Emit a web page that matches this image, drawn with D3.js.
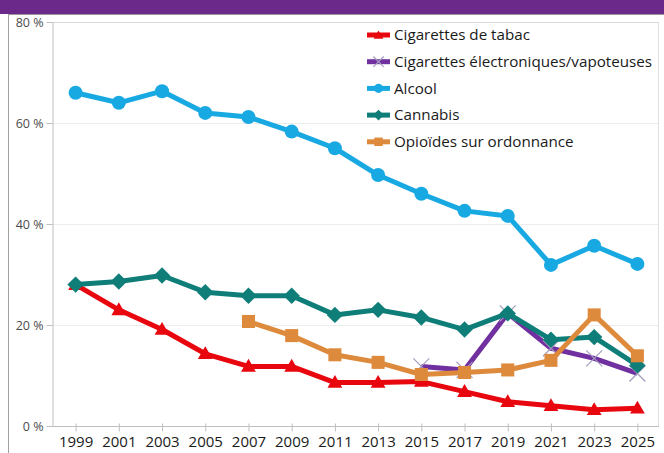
<!DOCTYPE html>
<html><head><meta charset="utf-8">
<script src="https://cdn.jsdelivr.net/npm/d3@7"></script>
<style>html,body{margin:0;padding:0;background:#fff;}svg{display:block;}</style>
</head><body>
<svg id="c" width="664" height="453"></svg>
<script>
const years = ["1999","2001","2003","2005","2007","2009","2011","2013","2015","2017","2019","2021","2023","2025"];
const yTicks = [0,20,40,60,80];
const seriesNames = ["Cigarettes de tabac","Cigarettes électroniques/vapoteuses","Alcool","Cannabis","Opioïdes sur ordonnance"];
const tabac = [28.0,23.0,19.1,14.3,11.8,11.8,8.6,8.6,8.8,6.8,4.8,4.0,3.2,3.5];
const ecig = [null,null,null,null,null,null,null,null,11.8,11.1,22.3,15.4,13.4,10.4];
const alcool = [66.0,64.0,66.3,62.0,61.2,58.3,55.0,49.7,46.0,42.6,41.6,31.9,35.7,32.1];
const cannabis = [28.0,28.6,29.8,26.5,25.8,25.8,22.0,23.0,21.5,19.1,22.3,17.1,17.6,12.0];
const opioides = [null,null,null,null,20.7,17.9,14.1,12.6,10.2,10.6,11.1,13.0,22.0,13.9];

const colors = ["#E8070E","#7030A0","#19A9E2","#0F7E79","#DE8A3D"];
const shapes = ["triangle","x","circle","diamond","square"];
const allVals = [tabac, ecig, alcool, cannabis, opioides];

const svg = d3.select("#c");
svg.append("rect").attr("x",0).attr("y",0).attr("width",664).attr("height",14).attr("fill","#6B2A8A");
svg.append("line").attr("x1",8).attr("x2",664).attr("y1",14.5).attr("y2",14.5).attr("stroke","#9a9a9a");
svg.append("line").attr("x1",8.5).attr("x2",8.5).attr("y1",14).attr("y2",453).attr("stroke","#a0a0a0");

const x = d3.scalePoint().domain(years).range([54,659]).padding(0.5);
const y = d3.scaleLinear().domain([0,80]).range([426,22]);

svg.append("g").selectAll("line").data(yTicks.filter(d=>d>0)).join("line")
  .attr("x1",52).attr("x2",659).attr("y1",d=>Math.round(y(d))+0.5).attr("y2",d=>Math.round(y(d))+0.5)
  .attr("stroke",d=>d===80?"#d9d9d9":"#ececec");
svg.append("line").attr("x1",658.5).attr("x2",658.5).attr("y1",22).attr("y2",426).attr("stroke","#e0e0e0");

const ya = svg.append("g").attr("transform","translate(52.5,0)")
  .call(d3.axisLeft(y).tickValues(yTicks).tickFormat(d=>d+" %").tickSizeInner(6).tickSizeOuter(0).tickPadding(3));
ya.select(".domain").attr("stroke","#bfbfbf");
ya.selectAll(".tick line").attr("stroke","#bfbfbf");
ya.selectAll(".tick text").attr("fill","#4d4d4d").style("font-family","'Open Sans',sans-serif").style("font-size","12.5px");

const xa = svg.append("g").attr("transform","translate(0,426.5)")
  .call(d3.axisBottom(x).tickSizeInner(5).tickSizeOuter(0).tickPadding(5));
xa.select(".domain").attr("stroke","#bfbfbf").attr("d","M52,0H659");
xa.selectAll(".tick line").attr("stroke","#bfbfbf").attr("y1",-3);
xa.selectAll(".tick text").attr("fill","#1a1a1a").style("font-family","'Open Sans',sans-serif").style("font-size","15px");

function drawMarker(g, shape, color, s) {
  if (shape === "triangle") {
    g.append("path").attr("d", d3.symbol(d3.symbolTriangle, 95*s*s)()).attr("fill",color).attr("transform","translate(0,1)");
  } else if (shape === "circle") {
    g.append("circle").attr("r",7*s).attr("fill",color);
  } else if (shape === "diamond") {
    g.append("path").attr("d", d3.symbol(d3.symbolSquare, 135*s*s)()).attr("fill",color).attr("transform","rotate(45)");
  } else if (shape === "square") {
    g.append("path").attr("d", d3.symbol(d3.symbolSquare, 170*s*s)()).attr("fill",color);
  } else if (shape === "x") {
    const r = 8*s;
    g.append("path").attr("d",`M${-r},${-r}L${r},${r}M${-r},${r}L${r},${-r}`)
      .attr("stroke","#A49CBF").attr("stroke-width",1.2).attr("fill","none");
  }
}

const line = d3.line().defined(d=>d.v!=null).x(d=>x(d.year)).y(d=>y(d.v));
allVals.forEach((vals,i)=>{
  const pts = years.map((yr,j)=>({year:yr, v:vals[j]}));
  const g = svg.append("g");
  g.append("path").datum(pts).attr("d",line).attr("fill","none").attr("stroke",colors[i])
    .attr("stroke-width",5).attr("stroke-linejoin","round");
  pts.filter(p=>p.v!=null).forEach(p=>{
    const m = g.append("g").attr("transform",`translate(${x(p.year)},${y(p.v)})`);
    drawMarker(m, shapes[i], colors[i], 1);
  });
});

const leg = svg.append("g");
seriesNames.forEach((name,i)=>{
  const cy = 35 + i*26.7;
  const g = leg.append("g").attr("transform",`translate(0,${cy})`);
  g.append("line").attr("x1",367).attr("x2",390).attr("y1",0).attr("y2",0).attr("stroke",colors[i]).attr("stroke-width",5);
  const m = g.append("g").attr("transform","translate(378.5,0)");
  drawMarker(m, shapes[i], colors[i], 0.65);
  g.append("text").attr("x",394).attr("y",0).attr("dy","0.35em").text(name)
    .attr("fill","#1a1a1a").style("font-family","'Open Sans',sans-serif").style("font-size","15.2px");
});
</script>
</body></html>
